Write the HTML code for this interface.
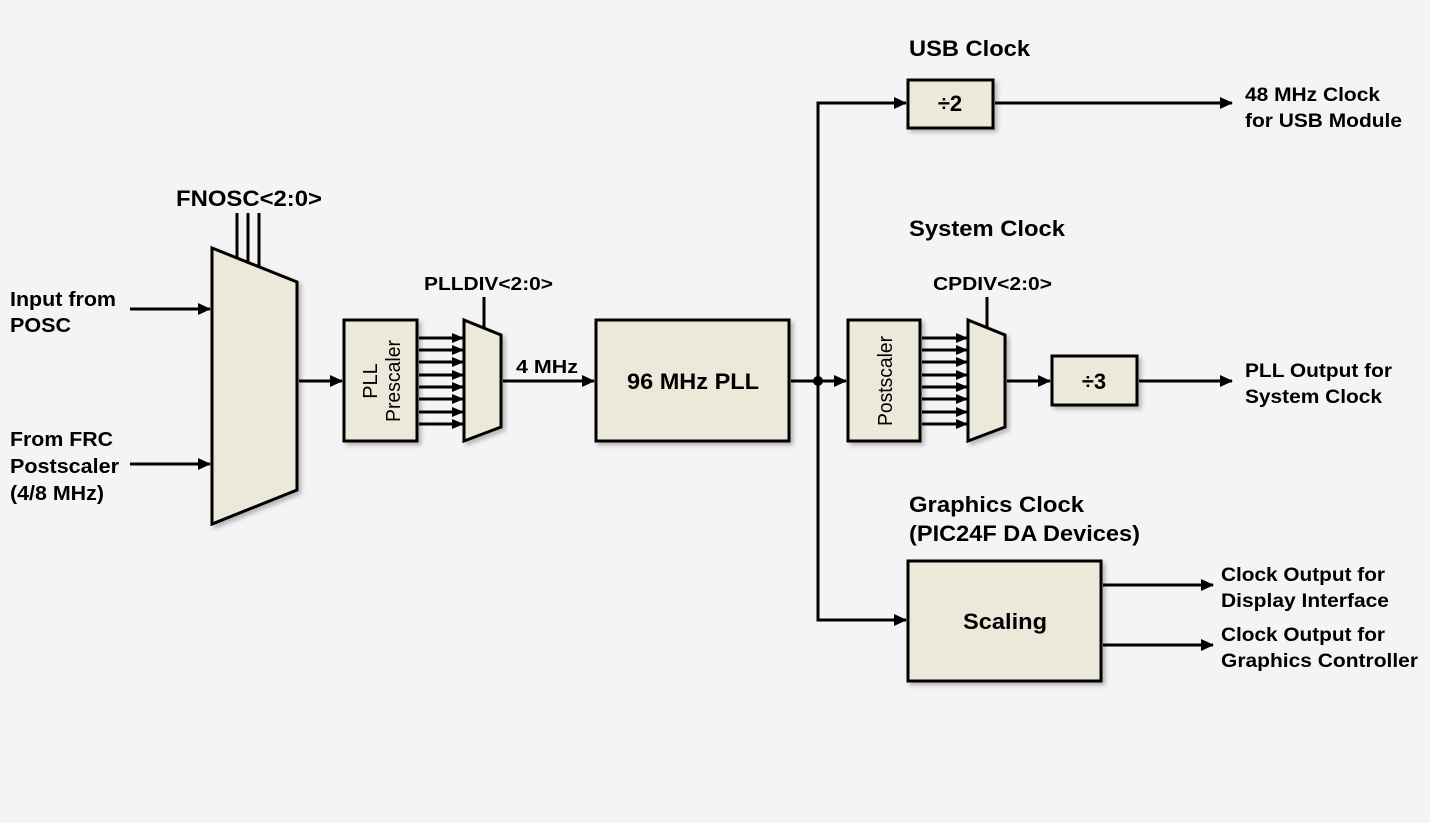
<!DOCTYPE html>
<html><head><style>body{margin:0;background:#f4f4f4}svg{display:block}</style></head><body>
<svg width="1430" height="823" xmlns="http://www.w3.org/2000/svg" font-family="Liberation Sans, Arial, sans-serif">
<defs>
<marker id="a" markerWidth="13" markerHeight="12" refX="12" refY="6" orient="auto" markerUnits="userSpaceOnUse"><path d="M0,0 L13,6 L0,12 z" fill="#000"/></marker>
<marker id="s" markerWidth="12" markerHeight="10" refX="11" refY="5" orient="auto" markerUnits="userSpaceOnUse"><path d="M0,0 L12,5 L0,10 z" fill="#000"/></marker>
<filter id="sh" x="-10%" y="-10%" width="130%" height="130%"><feDropShadow dx="3" dy="3" stdDeviation="2" flood-color="#000" flood-opacity="0.25"/></filter>
</defs>
<rect width="1430" height="823" fill="#f4f4f4"/>
<g stroke="#000" stroke-width="3" fill="#ece8da">
<polygon points="212,248 297,282 297,490 212,524" filter="url(#sh)"/>
<rect x="344" y="320" width="73" height="121" filter="url(#sh)"/>
<polygon points="464,320 501,335 501,427 464,441" filter="url(#sh)"/>
<rect x="596" y="320" width="193" height="121" filter="url(#sh)"/>
<rect x="908" y="80" width="85" height="48" filter="url(#sh)"/>
<rect x="848" y="320" width="72" height="121" filter="url(#sh)"/>
<polygon points="968,320 1005,335 1005,427 968,441" filter="url(#sh)"/>
<rect x="1052" y="356" width="85" height="49" filter="url(#sh)"/>
<rect x="908" y="561" width="193" height="120" filter="url(#sh)"/>
</g>
<g stroke="#000" stroke-width="3" fill="none">
<line x1="237" y1="213" x2="237" y2="258"/><line x1="248" y1="213" x2="248" y2="262"/><line x1="259" y1="213" x2="259" y2="267"/>
<line x1="130" y1="309" x2="210" y2="309" marker-end="url(#a)"/>
<line x1="130" y1="464" x2="210" y2="464" marker-end="url(#a)"/>
<line x1="299" y1="381" x2="342" y2="381" marker-end="url(#a)"/>
<line x1="484" y1="297" x2="484" y2="328"/>
<line x1="503" y1="381" x2="594" y2="381" marker-end="url(#a)"/>
<line x1="791" y1="381" x2="846" y2="381" marker-end="url(#a)"/>
<polyline points="906,103 818,103 818,620 906,620"/>
<line x1="818" y1="103" x2="906" y2="103" marker-end="url(#a)"/>
<line x1="818" y1="620" x2="906" y2="620" marker-end="url(#a)"/>
<line x1="995" y1="103" x2="1232" y2="103" marker-end="url(#a)"/>
<line x1="987" y1="297" x2="987" y2="328"/>
<line x1="1007" y1="381" x2="1050" y2="381" marker-end="url(#a)"/>
<line x1="1139" y1="381" x2="1232" y2="381" marker-end="url(#a)"/>
<line x1="1103" y1="585" x2="1213" y2="585" marker-end="url(#a)"/>
<line x1="1103" y1="645" x2="1213" y2="645" marker-end="url(#a)"/>
</g>
<g stroke="#000" stroke-width="3">
<line x1="419" y1="338" x2="463" y2="338" marker-end="url(#s)"/><line x1="419" y1="350" x2="463" y2="350" marker-end="url(#s)"/><line x1="419" y1="362" x2="463" y2="362" marker-end="url(#s)"/><line x1="419" y1="375" x2="463" y2="375" marker-end="url(#s)"/><line x1="419" y1="387" x2="463" y2="387" marker-end="url(#s)"/><line x1="419" y1="399" x2="463" y2="399" marker-end="url(#s)"/><line x1="419" y1="412" x2="463" y2="412" marker-end="url(#s)"/><line x1="419" y1="424" x2="463" y2="424" marker-end="url(#s)"/>
<line x1="922" y1="338" x2="967" y2="338" marker-end="url(#s)"/><line x1="922" y1="350" x2="967" y2="350" marker-end="url(#s)"/><line x1="922" y1="362" x2="967" y2="362" marker-end="url(#s)"/><line x1="922" y1="375" x2="967" y2="375" marker-end="url(#s)"/><line x1="922" y1="387" x2="967" y2="387" marker-end="url(#s)"/><line x1="922" y1="399" x2="967" y2="399" marker-end="url(#s)"/><line x1="922" y1="412" x2="967" y2="412" marker-end="url(#s)"/><line x1="922" y1="424" x2="967" y2="424" marker-end="url(#s)"/>
</g>
<circle cx="818" cy="381" r="5" fill="#000"/>
<g font-weight="bold" fill="#000" font-size="20" lengthAdjust="spacingAndGlyphs">
<text x="176" y="206" font-size="22" textLength="146" lengthAdjust="spacingAndGlyphs">FNOSC&lt;2:0&gt;</text>
<text x="10" y="306" textLength="106" lengthAdjust="spacingAndGlyphs">Input from</text><text x="10" y="332" textLength="61" lengthAdjust="spacingAndGlyphs">POSC</text>
<text x="10" y="446" textLength="103" lengthAdjust="spacingAndGlyphs">From FRC</text><text x="10" y="473" textLength="109" lengthAdjust="spacingAndGlyphs">Postscaler</text><text x="10" y="500" textLength="94" lengthAdjust="spacingAndGlyphs">(4/8 MHz)</text>
<text x="424" y="290" font-size="18" textLength="129" lengthAdjust="spacingAndGlyphs">PLLDIV&lt;2:0&gt;</text>
<text x="516" y="373" font-size="18" textLength="62" lengthAdjust="spacingAndGlyphs">4 MHz</text>
<text x="627" y="389" font-size="22" textLength="132" lengthAdjust="spacingAndGlyphs">96 MHz PLL</text>
<text x="909" y="56" font-size="22" textLength="121" lengthAdjust="spacingAndGlyphs">USB Clock</text>
<text x="950" y="111" font-size="22" text-anchor="middle">÷2</text>
<text x="1245" y="101" font-size="19" textLength="135" lengthAdjust="spacingAndGlyphs">48 MHz Clock</text><text x="1245" y="127" font-size="19" textLength="157" lengthAdjust="spacingAndGlyphs">for USB Module</text>
<text x="909" y="236" font-size="22" textLength="156" lengthAdjust="spacingAndGlyphs">System Clock</text>
<text x="933" y="290" font-size="18" textLength="119" lengthAdjust="spacingAndGlyphs">CPDIV&lt;2:0&gt;</text>
<text x="1094" y="389" font-size="22" text-anchor="middle">÷3</text>
<text x="1245" y="377" font-size="19" textLength="147" lengthAdjust="spacingAndGlyphs">PLL Output for</text><text x="1245" y="403" font-size="19" textLength="137" lengthAdjust="spacingAndGlyphs">System Clock</text>
<text x="909" y="512" font-size="22" textLength="175" lengthAdjust="spacingAndGlyphs">Graphics Clock</text><text x="909" y="541" font-size="22" textLength="231" lengthAdjust="spacingAndGlyphs">(PIC24F DA Devices)</text>
<text x="963" y="629" font-size="22" textLength="84" lengthAdjust="spacingAndGlyphs">Scaling</text>
<text x="1221" y="581" font-size="19" textLength="164" lengthAdjust="spacingAndGlyphs">Clock Output for</text><text x="1221" y="607" font-size="19" textLength="168" lengthAdjust="spacingAndGlyphs">Display Interface</text>
<text x="1221" y="641" font-size="19" textLength="164" lengthAdjust="spacingAndGlyphs">Clock Output for</text><text x="1221" y="667" font-size="19" textLength="197" lengthAdjust="spacingAndGlyphs">Graphics Controller</text>
</g>
<g fill="#000" font-size="20">
<text transform="translate(377,381) rotate(-90)" text-anchor="middle">PLL</text>
<text transform="translate(400,381) rotate(-90)" text-anchor="middle" textLength="82" lengthAdjust="spacingAndGlyphs">Prescaler</text>
<text transform="translate(892,381) rotate(-90)" text-anchor="middle" textLength="90" lengthAdjust="spacingAndGlyphs">Postscaler</text>
</g>
</svg>
</body></html>
